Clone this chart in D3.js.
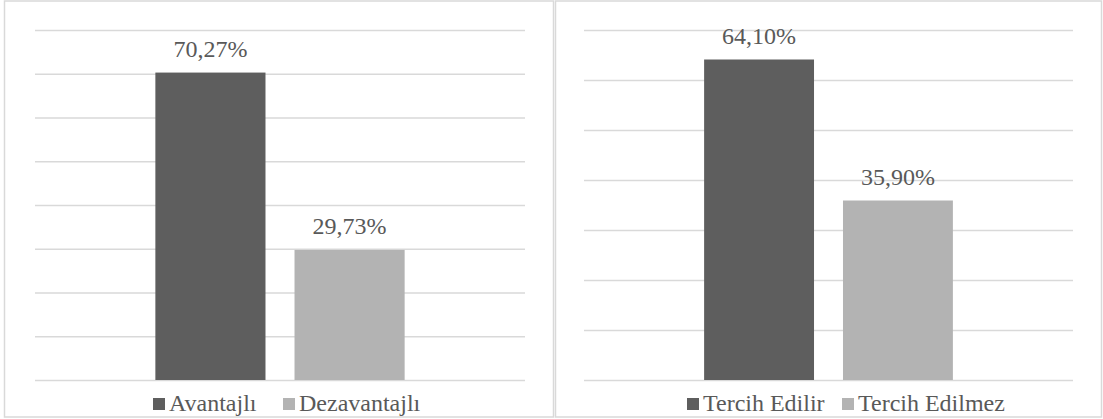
<!DOCTYPE html>
<html>
<head>
<meta charset="utf-8">
<script src="https://cdn.jsdelivr.net/npm/d3@7"></script>
<style>
  body { margin: 0; background: #fff; }
  svg { display: block; }
</style>
</head>
<body>
<div id="chart"></div>
<script>
// data
const leftCategories = ["Avantajlı", "Dezavantajlı"];
const leftValues = [70.27, 29.73];
const leftTicks = [0, 10, 20, 30, 40, 50, 60, 70, 80];

const rightCategories = ["Tercih Edilir", "Tercih Edilmez"];
const rightValues = [64.10, 35.90];
const rightTicks = [0, 10, 20, 30, 40, 50, 60, 70];

const barColors = ["#5e5e5e", "#b3b3b3"];
const textColor = "#595959";
const gridColor = "#d9d9d9";
const fontFam = "'Liberation Serif', 'Times New Roman', serif";

const tr = d3.formatLocale({ decimal: ",", thousands: ".", grouping: [3], currency: ["", ""] });
const pct = v => tr.format(".2f")(v) + "%";

const svg = d3.select("#chart").append("svg")
    .attr("width", 1103)
    .attr("height", 419);

let drawPanel = (opt) => {
    const g = svg.append("g");

    // chart border
    g.append("rect")
        .attr("x", opt.box[0] + 0.5)
        .attr("y", 1)
        .attr("width", opt.box[1] - opt.box[0])
        .attr("height", 416)
        .attr("fill", "none")
        .attr("stroke", gridColor)
        .attr("stroke-width", 1.5);

    const x = d3.scaleBand()
        .domain(opt.categories)
        .range([opt.plot[0], opt.plot[1]])
        .paddingInner(0.2086)
        .paddingOuter(0.865);

    const y = d3.scaleLinear()
        .domain([0, d3.max(opt.ticks)])
        .range([380, 30]);

    // gridlines
    g.append("g")
        .attr("transform", `translate(${opt.plot[0]},0)`)
        .call(d3.axisLeft(y).tickValues(opt.ticks).tickSize(-(opt.plot[1] - opt.plot[0])).tickFormat(""))
        .call(a => a.select(".domain").remove())
        .call(a => a.selectAll("line").attr("stroke", gridColor).attr("stroke-width", 1.3));

    // bars
    g.selectAll(".bar")
        .data(opt.values)
        .enter().append("rect")
        .attr("x", (d, i) => x(opt.categories[i]))
        .attr("y", d => y(d))
        .attr("width", x.bandwidth())
        .attr("height", d => y(0) - y(d))
        .attr("fill", (d, i) => barColors[i]);

    // value labels
    g.selectAll(".lbl")
        .data(opt.values)
        .enter().append("text")
        .attr("x", (d, i) => x(opt.categories[i]) + x.bandwidth() / 2)
        .attr("y", d => y(d) - 16)
        .attr("text-anchor", "middle")
        .attr("font-family", fontFam)
        .attr("font-size", 24)
        .attr("fill", textColor)
        .text(d => pct(d));

    // legend
    opt.categories.forEach((c, i) => {
        const lx = opt.legend[i];
        g.append("rect")
            .attr("x", lx)
            .attr("y", 398)
            .attr("width", 12)
            .attr("height", 12)
            .attr("fill", barColors[i]);
        g.append("text")
            .attr("x", lx + 16)
            .attr("y", 410.5)
            .attr("font-family", fontFam)
            .attr("font-size", 24)
            .attr("fill", textColor)
            .text(c);
    });
};

drawPanel({
    box: [4, 553],
    plot: [35, 525],
    categories: leftCategories,
    values: leftValues,
    ticks: leftTicks,
    legend: [153, 283]
});

drawPanel({
    box: [555, 1101],
    plot: [584, 1073],
    categories: rightCategories,
    values: rightValues,
    ticks: rightTicks,
    legend: [687, 842]
});
</script>
</body>
</html>
